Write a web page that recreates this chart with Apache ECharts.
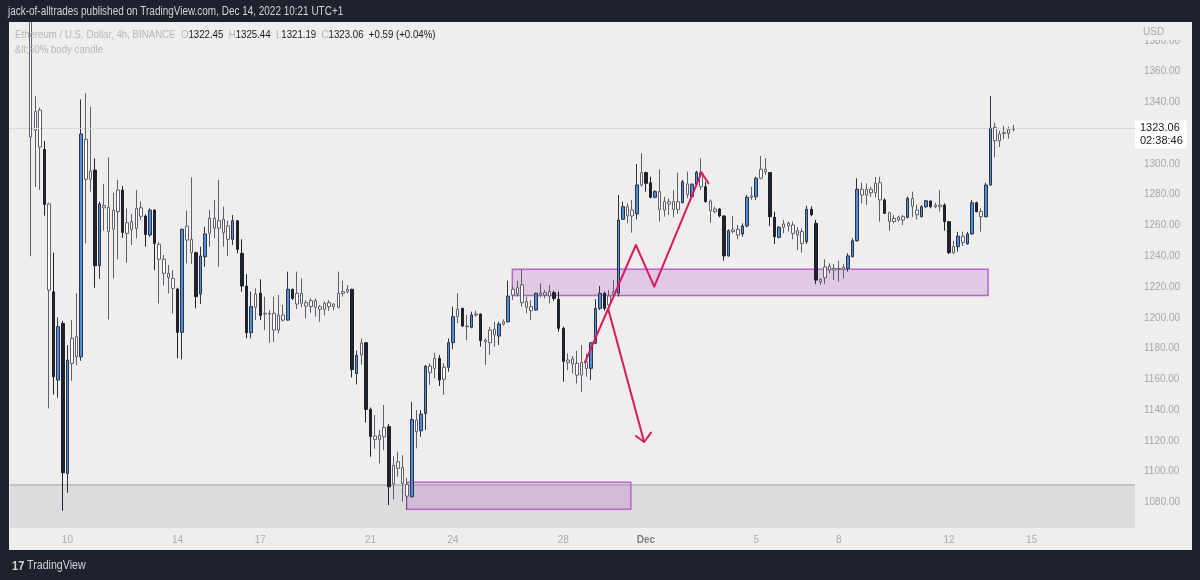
<!DOCTYPE html>
<html>
<head>
<meta charset="utf-8">
<script src="https://cdn.jsdelivr.net/npm/echarts@6/dist/echarts.min.js"></script>
<style>
html,body{margin:0;padding:0;background:#1e222d;}
#chart{width:1200px;height:580px;}
</style>
</head>
<body>
<div id="chart"></div>
<script>
// ---------- data ----------
const START_UTC = Date.UTC(2022, 10, 8, 0, 0); // Nov 8 2022 00:00, 4h slots
const SLOT_COUNT = 245;
const FIRST_INDEX = 4;   // slot of the first candle
// [open, close, low, high]
const ohlc = [
[1420,1317.5,1240,1480],[1322,1334,1285,1344],[1335,1311,1283,1336.6],[1309.5,1273.7,1266.4,1314.9],
[1274,1218,1141,1274.8],[1216.9,1161.6,1150.1,1242.3],[1159.5,1194.2,1148,1200.2],[1196.3,1099.2,1074.5,1198],
[1098.8,1172.5,1086.2,1182.2],[1170.3,1186.6,1159,1198.5],[1187.7,1174.6,1169.2,1215.9],[1174.6,1319.5,1172,1342],
[1316,1290,1248.4,1345.9],[1290,1295.4,1282,1337.2],[1296,1233.8,1219.5,1303.6],[1233.8,1274,1225.2,1275.5],
[1273,1271.5,1256.6,1287],[1271.8,1256,1198.9,1304.3],[1257.5,1270,1225.6,1281.3],[1269,1283,1238,1289.6],
[1283,1255.5,1252,1285.7],[1254.9,1261.8,1235.8,1271.1],[1262.4,1257.5,1247.3,1267.4],[1258.1,1271.1,1251.6,1283],
[1271.5,1266,1263.5,1275.5],[1266.1,1254.2,1246.2,1267.2],[1253.8,1270,1252.7,1271.1],[1270,1248.4,1231,1270.5],
[1247.7,1238,1209.3,1249.4],[1238,1228.9,1221,1240.8],[1228.9,1226.2,1215.9,1234.3],[1225.6,1219.1,1202.8,1231],
[1218.7,1190.5,1173.6,1219.5],[1190.5,1257.5,1172.9,1258.1],[1259.6,1250.5,1235.4,1269.6],[1251,1242.3,1235,1291.3],
[1242.3,1213.7,1206.1,1243],[1215.4,1240.2,1208.9,1246.2],[1239.7,1254.5,1233.2,1259.2],[1254.9,1264.7,1246.2,1270.1],
[1264.7,1258.2,1251.6,1276.6],[1258.2,1263.1,1233.2,1289.6],[1264,1255.3,1246.2,1272.2],[1259.7,1251,1240.2,1263.1],
[1251,1263.1,1247.3,1266.8],[1263.1,1244.5,1241.9,1263.5],[1241.9,1220.6,1217,1251],[1220.6,1190.3,1186.6,1228.4],
[1190.3,1207.2,1186.6,1217],[1206.8,1215.4,1198.5,1219.1],[1216,1201.5,1198.5,1225],[1202.9,1202.4,1192,1213.7],
[1202.9,1202.4,1183.8,1205],[1202.9,1192,1184.4,1213.7],[1192,1201.8,1189.9,1214.8],[1201.8,1198.5,1197.4,1208.3],
[1198.5,1218.5,1198.1,1230],[1218.5,1212.6,1211.5,1218.9],[1208.9,1215.9,1205.5,1230],[1215.9,1209.4,1206.8,1225.6],
[1209.8,1207.6,1199.6,1211.5],[1207.2,1211.1,1203.3,1212.6],[1211.1,1206.8,1200.7,1212.5],[1207.2,1205.5,1197.4,1208.3],
[1205.5,1209.4,1201.5,1210.5],[1209.8,1207.2,1204.5,1211.5],[1207.2,1208.9,1205,1209.4],[1206.8,1215.9,1206,1230],
[1215.9,1217,1213.7,1224.1],[1217,1218.5,1215.9,1221.3],[1218.5,1166.3,1161.2,1218.9],[1163.8,1175.5,1156.6,1178.6],
[1175.8,1183.6,1169.5,1186.5],[1183.8,1140.4,1131.8,1184.2],[1140.4,1122.8,1109.6,1141.7],[1123.1,1120.9,1114.8,1136.7],
[1120.9,1123.7,1105.3,1127],[1122.6,1128.7,1114,1143.3],[1129.2,1090.1,1078.2,1130.9],[1092,1104,1082,1110],
[1106.4,1102.1,1096.6,1112.9],[1102.7,1092.3,1080.4,1110.7],[1091.5,1084,1075,1096],[1083.6,1133.9,1083.2,1145.4],
[1133.5,1125.9,1115.1,1140],[1126.5,1137.4,1122.6,1140],[1137.8,1168.6,1127,1169.3],[1168.6,1164.3,1156.3,1170.4],
[1167.1,1173.6,1160.6,1177.3],[1173.6,1159.5,1155.6,1175.8],[1160,1167.8,1149.8,1170.4],[1167.8,1183.8,1164.9,1186.6],
[1183.8,1200.7,1179.5,1207.2],[1200.7,1205.5,1196.4,1215.9],[1206.1,1194.6,1194.2,1206.5],[1194.6,1194.2,1185.5,1201.8],
[1193.8,1201.8,1193.1,1204],[1201.8,1202.4,1200.7,1204.6],[1202.4,1185.1,1181.2,1202.8],[1185.5,1184.4,1169.3,1186.6],
[1183.8,1192,1175.8,1194],[1192.5,1188.8,1181.2,1197.4],[1188.1,1195.9,1182.3,1197.4],[1195.9,1197.4,1195,1199],
[1197.4,1214.1,1196.8,1224.1],[1214.8,1218.5,1211.5,1220.2],[1215.5,1219.5,1213.7,1224.1],[1221.3,1209.8,1207.2,1231.5],
[1210.5,1206.8,1202.9,1213.7],[1207.2,1204.6,1198.5,1211.5],[1205,1215.9,1204.6,1216.5],[1215.4,1216.3,1213.3,1222.4],
[1216.3,1214.8,1212.6,1218.1],[1214.1,1217,1209.4,1221.3],[1216.3,1212.6,1211,1217.5],[1212,1193.1,1190.9,1217],
[1193.1,1171.7,1158.4,1194.2],[1172.5,1170.8,1166,1176.9],[1169.9,1173.3,1163.8,1175.1],[1170.3,1162.7,1157.3,1178.6],
[1162.7,1170.8,1151.9,1182.3],[1167.1,1171.4,1161.7,1176.8],[1167.1,1183.8,1159.5,1184.2],[1183.4,1206.1,1182.9,1212],
[1206.1,1215.9,1205,1220.6],[1215.9,1206.1,1204.6,1216.9],[1208.3,1214.1,1203,1218],[1215.4,1216.9,1214.1,1224.5],
[1215.9,1263.6,1213.7,1279.8],[1264,1272.2,1263.6,1275.5],[1272.2,1266.2,1261.4,1274.4],[1266.2,1270.1,1255.3,1276.6],
[1267.5,1286.3,1264,1300],[1286.3,1294.4,1285.2,1306.9],[1294.4,1287.4,1282,1295],[1287.8,1278.3,1277.7,1291.7],
[1278.3,1282,1277.7,1283],[1282,1270.5,1262.5,1296.5],[1270.1,1275.5,1265.7,1278.7],[1275.5,1274,1266.8,1277.7],
[1275.5,1270.5,1265.3,1283],[1270.5,1275.5,1267.5,1294.4],[1274.8,1288.5,1274.4,1289.6],[1287,1280,1277.7,1295],
[1278.7,1286.8,1278.3,1287.4],[1286.8,1294.6,1286.5,1295.6],[1294.6,1285.2,1283,1303.7],[1285.2,1275.5,1274.8,1288.5],
[1275.9,1269.6,1261.8,1277],[1270.7,1269,1267.9,1272.2],[1270.7,1266.2,1265.3,1271.2],[1266.2,1240.2,1237.1,1266.5],
[1240.2,1256.6,1239.7,1257.5],[1257.1,1256,1254.9,1266.2],[1257.5,1253.8,1251,1260.3],[1254.5,1259.7,1252.7,1261.4],
[1259.7,1278.3,1258.8,1279.8],[1278.3,1279.2,1276.6,1285.2],[1278.7,1290.7,1276.6,1291.7],[1290.7,1296.5,1290,1305.2],
[1296.5,1295,1292.8,1303.7],[1294.4,1265.7,1259.7,1294.8],[1265.3,1252.7,1248,1269],[1252.3,1258.8,1251.6,1259.7],
[1258.8,1261,1254.9,1263.6],[1261.4,1259.7,1256,1262.5],[1260.3,1254.9,1251,1262.5],[1256.6,1253.8,1244,1258.8],
[1256,1248.4,1242.3,1258.1],[1249.5,1270.5,1248,1272.7],[1270.5,1267,1266,1272.5],[1261.4,1224.5,1221.9,1263.6],
[1225,1223.5,1221.3,1225.6],[1226,1233,1221.9,1238],[1233.6,1231,1228.9,1235.4],[1231,1232.1,1224.5,1235],
[1232.1,1231.5,1223.5,1237.1],[1231.5,1232.8,1225.6,1235],[1232.1,1240.2,1230,1241.9],[1239.7,1250.1,1239.3,1251.6],
[1250.1,1283.5,1249.5,1290.7],[1283.5,1279.8,1274.4,1287.8],[1279.8,1283.5,1273.3,1287.4],[1283.5,1281.3,1278.7,1285.2],
[1281.3,1287.4,1278.3,1291.5],[1287.8,1276.6,1262.5,1291.7],[1276.6,1267.9,1267.5,1277.7],[1268.3,1262.5,1256.6,1269],
[1262.5,1264.6,1261.4,1266.8],[1263.6,1265.3,1262.5,1266.2],[1265.7,1263.6,1260.3,1266.8],[1265.3,1277.7,1264.6,1278.7],
[1277.5,1272.5,1265.5,1282],[1270,1267,1264,1273.5],[1265.7,1272.2,1265.2,1273.3],[1272.2,1276.1,1271.2,1276.6],
[1275.9,1272.2,1271.2,1276.3],[1273.3,1272.2,1271.2,1274.8],[1272.2,1273.3,1269,1283],[1273.3,1262.5,1256.6,1274.4],
[1262.5,1242.3,1241.4,1262.9],[1242.3,1246.2,1241.4,1250],[1246.2,1253.1,1243,1255.9],[1253,1249,1246.7,1255.9],
[1248,1254.5,1247.5,1255.9],[1254.5,1274.8,1254,1276.6],[1274.8,1269,1268.5,1275.5],[1269,1265.7,1256,1271.2],
[1265.7,1286.3,1265.2,1287.8],[1286.3,1323.2,1286,1344.2],[1323.8,1315.1,1304.3,1326.9],[1315,1319.5,1311,1321.5],
[1320.3,1319.9,1316,1324.7],[1319.9,1322.47,1316.5,1324.2],[1322.45,1323.06,1321.19,1325.44]
];
const tickIndex  = [12, 36, 54, 78, 96, 120, 138, 162, 180, 204, 222];
const tickLabels = ['10','14','17','21','24','28','Dec','5','8','12','15'];
const priceTicks = [1080,1100,1120,1140,1160,1180,1200,1220,1240,1260,1280,1300,1340,1360,1380];
const Y_MIN = 1063.3, Y_MAX = 1392.3;
const countdown = '02:38:46';
// annotation shapes, in (slot index, price) units
const zoneUpper = [108.9, 212.5, 1231.5, 1214.5];
const zoneLower = [85.9, 134.7, 1093, 1075.5];
const bandTop = 1091.3;
const zigzagPath = [[124.7,1171.0],[135.8,1247.3],[139.8,1220.2],[150.1,1294.4],[151.6,1287.4]];
const dropShaft = [[129.8,1205.5],[137.6,1119.2]];
const dropHead = [[135.8,1123.1],[137.6,1119.2],[139.1,1125.3]];

// ---------- build ----------
const categories = [];
for (let i = 0; i < SLOT_COUNT; i++) {
  const d = new Date(START_UTC + i * 4 * 3600 * 1000);
  categories.push(d.toISOString().slice(0, 16).replace('T', ' '));
}
const BLUE = '#4a8fe6', BLACK = '#1e222d', WHITE = '#ffffff';
function candleStyle(d) {
  const [o, c, l, h] = d;
  const ratio = Math.abs(c - o) / ((h - l) || 1);
  let fill, border;
  if (ratio < 0.5) { fill = WHITE; border = '#5d606b'; }
  else if (c >= o) { fill = BLUE; border = '#2f3240'; }
  else { fill = BLACK; border = BLACK; }
  return { color: fill, color0: fill, borderColor: border, borderColor0: border, borderWidth: 1 };
}
const candleData = ohlc.map((d, j) => ({ value: [FIRST_INDEX + j, d[0], d[1], d[2], d[3]], itemStyle: candleStyle(d) }));
const last = ohlc[ohlc.length - 1], prev = ohlc[ohlc.length - 2];
const chg = last[1] - prev[1];
const chgPct = chg / prev[1] * 100;
const sgn = v => (v >= 0 ? '+' : '') + v.toFixed(2);

const FONT = '"Liberation Sans", Arial, sans-serif';

function rectRender(fill, stroke, lw, topLineOnly) {
  return function (params, api) {
    const p1 = api.coord([api.value(0), api.value(2)]);
    const p2 = api.coord([api.value(1), api.value(3)]);
    const shape = { x: p1[0], y: p1[1], width: p2[0] - p1[0], height: p2[1] - p1[1] };
    if (topLineOnly) {
      return { type: 'group', children: [
        { type: 'rect', shape, style: { fill } },
        { type: 'line', shape: { x1: p1[0], y1: p1[1], x2: p2[0], y2: p1[1] }, style: { stroke, lineWidth: lw } }
      ]};
    }
    return { type: 'rect', shape, style: { fill, stroke, lineWidth: lw } };
  };
}

const chart = echarts.init(document.getElementById('chart'), null, { renderer: 'canvas' });
const option = {
  backgroundColor: '#1e222d',
  animation: false,
  textStyle: { fontFamily: FONT },
  grid: { left: 10, right: 65, top: 22, bottom: 52, containLabel: false },
  xAxis: [
    {
      type: 'category', data: categories, boundaryGap: true,
      axisLine: { show: false }, axisTick: { show: false }, splitLine: { show: false },
      axisLabel: {
        interval: (i) => tickIndex.includes(i),
        formatter: (v, i) => {
          const t = tickLabels[tickIndex.indexOf(i)];
          return t === 'Dec' ? '{m|Dec}' : t;
        },
        color: '#a8abb3', fontSize: 10, margin: 7, fontFamily: FONT,
        rich: { m: { color: '#7b7e88', fontWeight: 'bold', fontSize: 10, fontFamily: FONT } }
      }
    },
    { type: 'value', min: -0.5, max: SLOT_COUNT - 0.5, show: false }
  ],
  yAxis: {
    type: 'value', position: 'right', min: Y_MIN, max: Y_MAX, scale: true,
    axisLine: { show: false }, axisTick: { show: false }, splitLine: { show: false },
    axisLabel: {
      customValues: priceTicks, formatter: v => v.toFixed(2),
      color: '#a3a6af', fontSize: 10, margin: 9, fontFamily: FONT
    }
  },
  series: [
    { type: 'custom', xAxisIndex: 1, z: 1, silent: true, clip: true,
      data: [[-0.5, SLOT_COUNT - 0.5, bandTop, Y_MIN]],
      renderItem: rectRender('#dddbde', '#b6b5ba', 1.5, true) },
    { type: 'custom', xAxisIndex: 1, z: 1, silent: true, clip: true,
      data: [zoneUpper], renderItem: rectRender('rgba(186,104,200,0.27)', '#b865cb', 1.5, false) },
    { type: 'custom', xAxisIndex: 1, z: 1, silent: true, clip: true,
      data: [zoneLower], renderItem: rectRender('rgba(186,104,200,0.27)', '#b865cb', 1.5, false) },
    {
      type: 'candlestick', name: 'ETHUSD', xAxisIndex: 0, z: 3, clip: true,
      barWidth: 3,
      encode: { x: 0, y: [1, 2, 3, 4] },
      data: candleData,
      markLine: {
        silent: true, symbol: ['none', 'none'], animation: false,
        lineStyle: { type: 'dotted', color: '#c3c5cb', width: 1 },
        label: {
          show: true, position: 'end', distance: 0, offset: [0, 6],
          formatter: () => last[1].toFixed(2) + '\n' + countdown,
          backgroundColor: '#ffffff', color: '#131722', fontSize: 11, lineHeight: 13,
          padding: [1, 4, 1, 5], fontFamily: FONT
        },
        data: [{ yAxis: last[1] }]
      }
    },
    { type: 'line', xAxisIndex: 1, z: 5, silent: true, showSymbol: false, symbol: 'none',
      data: zigzagPath, lineStyle: { color: '#d81b60', width: 2, cap: 'round', join: 'round' } },
    { type: 'line', xAxisIndex: 1, z: 5, silent: true, showSymbol: false, symbol: 'none',
      data: dropShaft, lineStyle: { color: '#d81b60', width: 2, cap: 'round' } },
    { type: 'line', xAxisIndex: 1, z: 5, silent: true, showSymbol: false, symbol: 'none',
      data: dropHead, lineStyle: { color: '#d81b60', width: 2, cap: 'round', join: 'round' } }
  ],
  graphic: [
    { type: 'rect', z: -100, shape: { x: 9, y: 22, width: 1183, height: 528 }, style: { fill: '#efeeec' } },
    // dark header strip drawn over anything that pokes above the plot
    { type: 'rect', z: 40, shape: { x: 0, y: 0, width: 1200, height: 22 }, style: { fill: '#1e222d' } },
    { type: 'rect', z: 50, shape: { x: 1136, y: 22, width: 55, height: 18 }, style: { fill: '#efeeec' } },
    { type: 'text', z: 51, x: 1143, y: 32, style: { text: 'USD', fill: '#a3a6af', font: '10px ' + FONT, verticalAlign: 'middle' } },
    { type: 'text', z: 50, x: 8, y: 12, scaleX: 0.83, style: {
        text: 'jack-of-alltrades published on TradingView.com, Dec 14, 2022 10:21 UTC+1',
        fill: '#d1d4dc', font: '12px ' + FONT, verticalAlign: 'middle' } },
    { type: 'text', z: 50, x: 15, y: 35, scaleX: 0.84, style: {
        text: '{g|Ethereum / U.S. Dollar, 4h, BINANCE}  {g|O}{v|' + last[0].toFixed(2) + '}  {g|H}{v|' + last[3].toFixed(2) +
              '}  {g|L}{v|' + last[2].toFixed(2) + '}  {g|C}{v|' + last[1].toFixed(2) + '}  {v|' + sgn(chg) + ' (' + sgn(chgPct) + '%)}',
        font: '11.5px ' + FONT, verticalAlign: 'middle',
        rich: { g: { fill: '#b4b6bd', font: '11.5px ' + FONT }, v: { fill: '#131722', font: '11.5px ' + FONT } } } },
    { type: 'text', z: 50, x: 15, y: 50, scaleX: 0.84, style: { text: '&lt;50% body candle', fill: '#b4b6bd', font: '11.5px ' + FONT, verticalAlign: 'middle' } },
    { type: 'text', z: 50, x: 12, y: 566, scaleX: 0.85, style: {
        text: '{l|17} {t|TradingView}', verticalAlign: 'middle',
        rich: { l: { fill: '#d1d4dc', font: 'bold 13px ' + FONT }, t: { fill: '#d1d4dc', font: '12.5px ' + FONT } } } }
  ]
};
chart.setOption(option);
</script>
</body>
</html>
